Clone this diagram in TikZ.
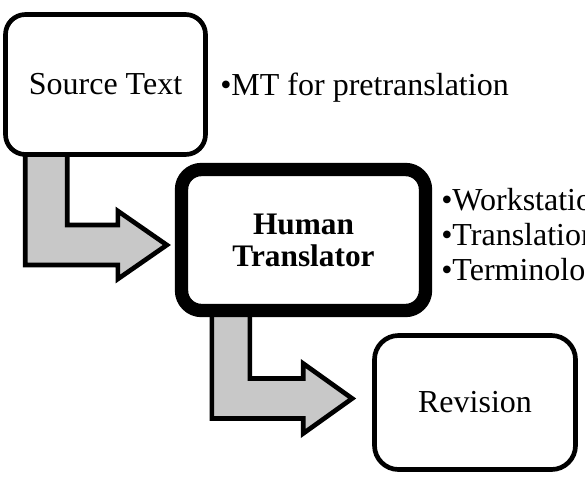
\documentclass[tikz,border=0pt]{standalone}
\usepackage{fontspec}
\setmainfont{Liberation Serif}
\usetikzlibrary{calc,backgrounds}
\definecolor{arrowgray}{RGB}{200,200,200}

\begin{document}
\begin{tikzpicture}[x=0.75pt, y=-0.75pt,
    stage/.style={draw, rectangle, rounded corners=15pt, line width=3.5pt, fill=white, align=center, inner sep=0pt, font=\fontsize{24}{24}\selectfont},
    mainstage/.style={stage, line width=10pt, font=\fontsize{23.5}{24}\selectfont\bfseries},
    bentarrow/.style={draw, line width=3.5pt, fill=arrowgray, line join=miter},
    tool/.style={anchor=base west, inner sep=0pt, font=\fontsize{24}{26}\selectfont},
]
\useasboundingbox (0,0) rectangle (585,479);
\clip (0,0) rectangle (585,479);

% --- stages ---
\node[stage, minimum width=150pt, minimum height=105pt] (source) at (105.5,84.5) {Source Text};
\node[mainstage, minimum width=183pt, minimum height=105.75pt] (human) at (303.5,240) {Human\\Translator};
\node[stage, rounded corners=18pt, minimum width=150.75pt, minimum height=100.5pt] (revision) at (475,402.5) {Revision};

% --- tools next to each stage ---
\node[tool] (mt) at (220,95) {•MT for pretranslation};
\node[tool] (workstation) at (441,210) {•Workstation};
\node[tool] (memory) at (441,245) {•Translation};
\node[tool] (terminology) at (441,280) {•Terminology};

% --- bent arrows, behind the boxes ---
\coordinate (tip1) at ($(human.west)+(-8,5)$);
\coordinate (tip2) at ($(revision.west)+(-20,-4)$);
\begin{scope}[on background layer]
\draw[bentarrow] ($(source.south west)+(22,-10)$) |- ($(tip1)+(-49,20)$) -- ++(0,14) -- (tip1) -- ++(-49,-34) -- ++(0,14) -| ($(source.south west)+(64,-10)$) -- cycle;
\draw[bentarrow] ($(human.south west)+(37,-10)$) |- ($(tip2)+(-49,20)$) -- ++(0,15) -- (tip2) -- ++(-49,-35) -- ++(0,15) -| ($(human.south west)+(75,-10)$) -- cycle;
\end{scope}
\end{tikzpicture}
\end{document}
